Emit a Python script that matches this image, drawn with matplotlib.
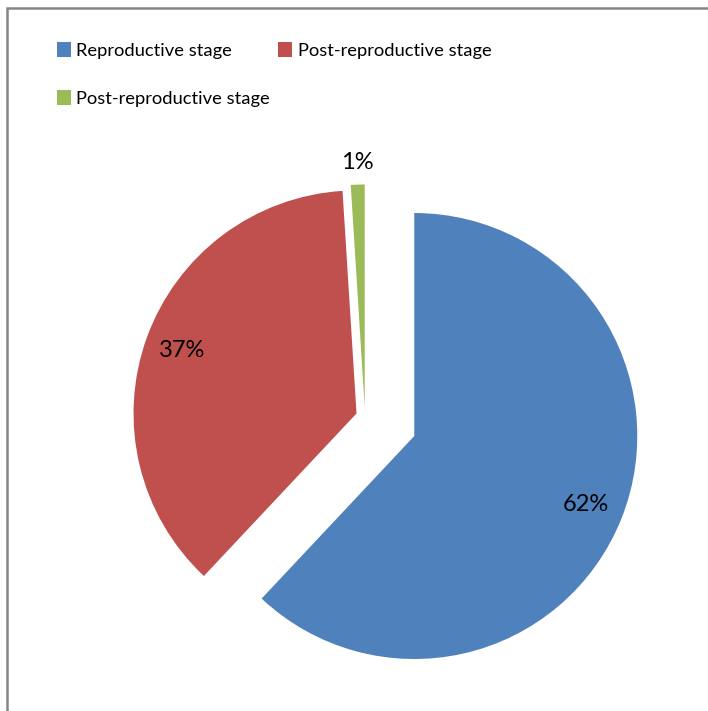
import numpy as np
import matplotlib.pyplot as plt
from matplotlib.patches import Rectangle

# slice data
labels = ['Reproductive stage', 'Post-reproductive stage', 'Post-reproductive stage']
values = [62, 37, 1]
colors = ['#4F81BD', '#C0504D', '#9BBB59']
explode = [53, 9, 9]  # pixel offsets, the pie is drawn in pixel units

plt.rcParams['font.family'] = ['Lato', 'DejaVu Sans']

fig = plt.figure(figsize=(7.08, 7.11), dpi=100)
ax = fig.add_axes([0, 0, 1, 1])

# pie in pixel units, y up
wedges, texts, autotexts = ax.pie(
    values, colors=colors, explode=explode, startangle=90, counterclock=False,
    center=(365, 711 - 416.5), radius=223, autopct='%1.0f%%', pctdistance=0.83,
    textprops={'fontsize': 17, 'color': 'black'}, frame=True)
ax.set_xlim(0, 708)
ax.set_ylim(0, 711)
ax.set_aspect('equal')
ax.axis('off')

# the small slice gets its label outside
w = wedges[2]
ang = np.deg2rad((w.theta1 + w.theta2) / 2)
cx, cy = w.center
autotexts[2].set_position((cx + 1.1 * w.r * np.cos(ang), cy + 1.1 * w.r * np.sin(ang)))

# chart border
fig.patches.append(Rectangle((7 / 708, -0.1), 1.2, (711 - 8) / 711 + 0.1,
                             transform=fig.transFigure, fill=False,
                             edgecolor='#868686', linewidth=1.8))

# legend row-major: item 0, item 1 on first row, item 2 below
order = [0, 2, 1]
fig.legend([wedges[i] for i in order], [labels[i] for i in order],
           loc='upper left', bbox_to_anchor=(57 / 708, 1 - 42 / 711), ncol=2,
           frameon=False, fontsize=13.2, handlelength=0.75, handleheight=0.85,
           handletextpad=0.3, columnspacing=0.45, labelspacing=1.72, borderpad=0,
           borderaxespad=0)

fig.savefig('out.png', dpi=100)
